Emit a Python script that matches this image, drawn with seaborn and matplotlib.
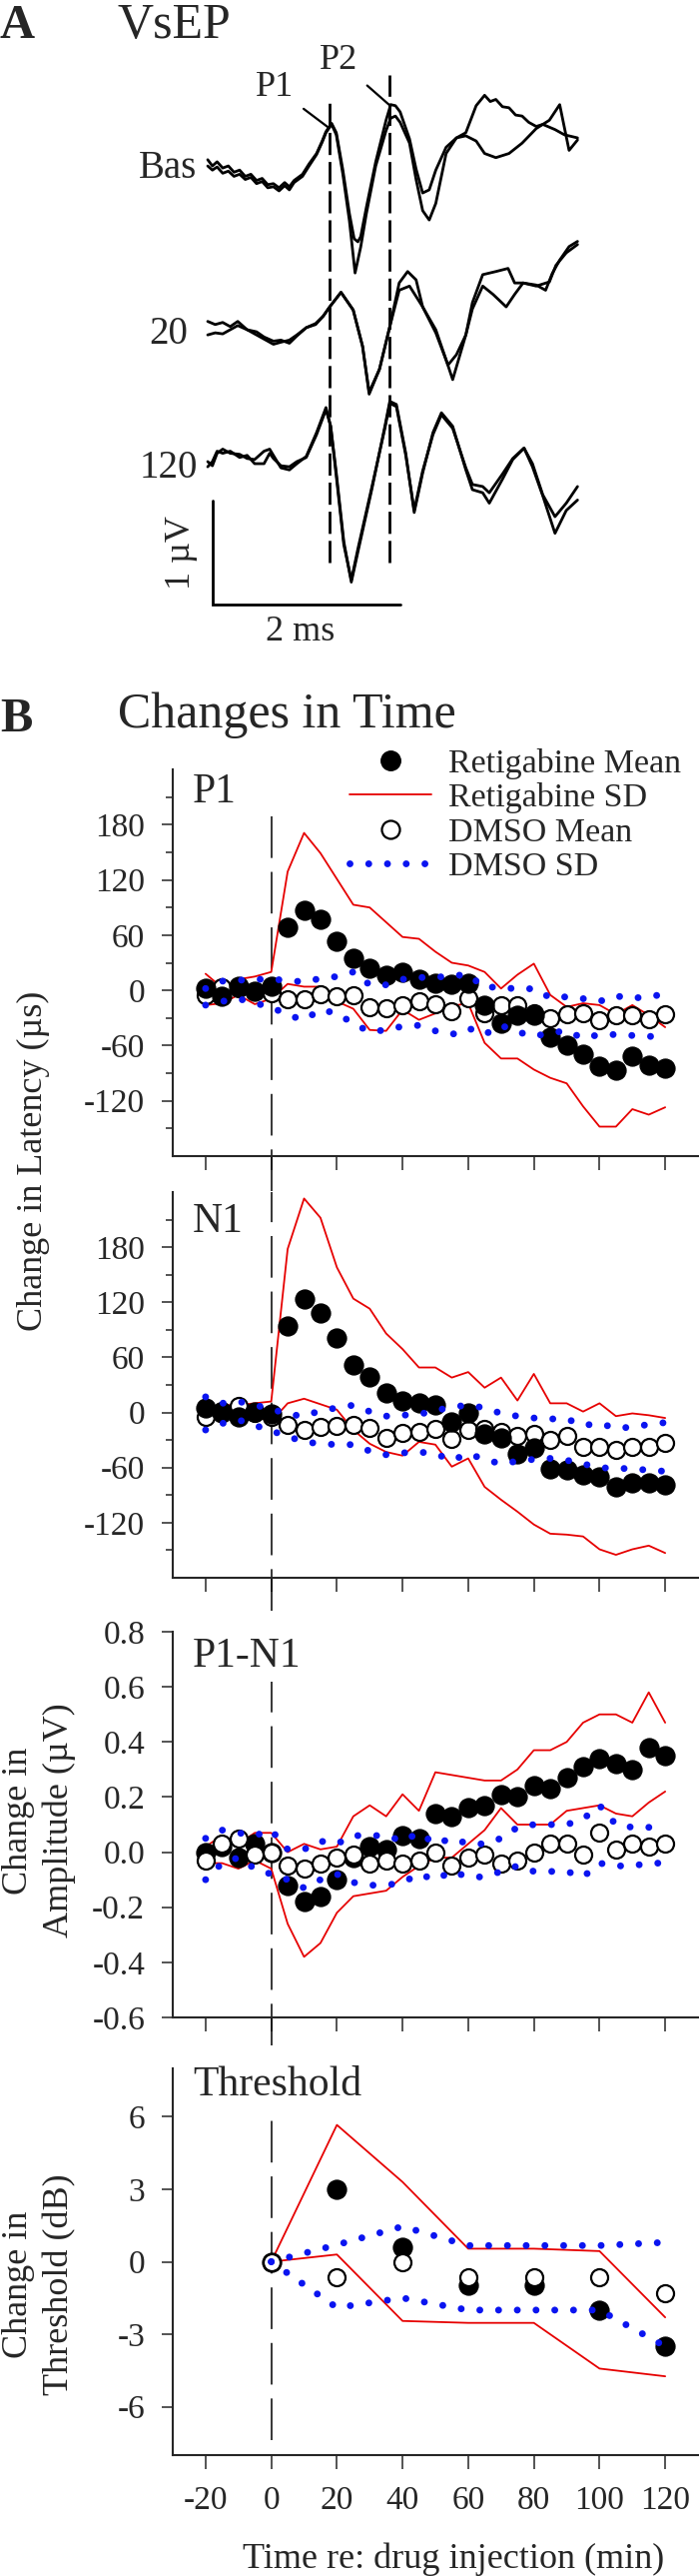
import numpy as np
import pandas as pd
import matplotlib
matplotlib.use("Agg")
import matplotlib.pyplot as plt
import seaborn as sns
from matplotlib.lines import Line2D

sns.set_style("ticks")
plt.rcParams['font.family'] = ['Liberation Serif', 'DejaVu Serif']
plt.rcParams['axes.unicode_minus'] = False
plt.rcParams['lines.scale_dashes'] = False

RED = '#e60000'
BLUE = '#0a14f0'

# ---------------- Panel A: VsEP traces (time in ms, amplitude in uV) ----------------
bas_a_t = [0.00, 0.05, 0.10, 0.16, 0.22, 0.28, 0.34, 0.40, 0.46, 0.52, 0.58, 0.64, 0.70, 0.76, 0.82,
           0.87, 0.92, 1.01, 1.08, 1.16, 1.22, 1.26, 1.32, 1.37, 1.44, 1.51, 1.56, 1.60, 1.63, 1.69,
           1.79, 1.90, 1.95, 2.00, 2.05, 2.15, 2.22, 2.29, 2.36, 2.43, 2.54, 2.65, 2.75, 2.86, 2.95,
           3.01, 3.07, 3.14, 3.21, 3.28, 3.35, 3.42, 3.50, 3.57, 3.70, 3.80, 3.94]
bas_a_uv = [0.04, -0.02, 0.02, -0.04, -0.02, -0.08, -0.06, -0.12, -0.10, -0.16, -0.14, -0.20, -0.19, -0.23, -0.18,
            -0.22, -0.16, -0.10, 0.00, 0.10, 0.22, 0.31, 0.39, 0.30, -0.06, -0.48, -0.72, -0.75, -0.70, -0.42,
            0.02, 0.42, 0.57, 0.56, 0.50, 0.24, -0.05, -0.28, -0.25, -0.06, 0.16, 0.25, 0.30, 0.56, 0.66,
            0.60, 0.62, 0.55, 0.54, 0.47, 0.46, 0.40, 0.36, 0.38, 0.33, 0.28, 0.25]
bas_b_t = [0.00, 0.05, 0.10, 0.16, 0.22, 0.28, 0.34, 0.40, 0.46, 0.52, 0.58, 0.64, 0.70, 0.76, 0.82,
           0.87, 0.92, 1.01, 1.08, 1.16, 1.22, 1.26, 1.32, 1.37, 1.44, 1.51, 1.57, 1.63, 1.69, 1.79,
           1.90, 1.95, 2.00, 2.05, 2.15, 2.22, 2.29, 2.36, 2.43, 2.54, 2.65, 2.75, 2.86, 2.95, 3.07,
           3.21, 3.35, 3.50, 3.64, 3.75, 3.85, 3.94]
bas_b_uv = [-0.02, -0.06, -0.03, -0.09, -0.07, -0.12, -0.10, -0.15, -0.13, -0.19, -0.17, -0.23, -0.22, -0.26, -0.21,
            -0.25, -0.18, -0.12, -0.02, 0.09, 0.21, 0.30, 0.38, 0.28, -0.10, -0.55, -1.05, -0.80, -0.48, -0.02,
            0.32, 0.44, 0.46, 0.40, 0.20, -0.15, -0.45, -0.54, -0.38, 0.10, 0.25, 0.27, 0.22, 0.10, 0.06,
            0.10, 0.20, 0.34, 0.42, 0.57, 0.13, 0.23]

d20_a_t = [0.00, 0.08, 0.16, 0.24, 0.32, 0.42, 0.52, 0.60, 0.70, 0.78, 0.87, 0.95, 1.05, 1.15, 1.23,
           1.30, 1.42, 1.55, 1.65, 1.72, 1.83, 1.94, 2.04, 2.13, 2.22, 2.29, 2.43, 2.54, 2.61, 2.75,
           2.82, 2.93, 3.07, 3.20, 3.27, 3.36, 3.50, 3.60, 3.67, 3.75, 3.85, 3.94]
d20_a_uv = [0.08, 0.05, 0.07, 0.03, 0.08, 0.00, -0.02, -0.07, -0.11, -0.10, -0.13, -0.06, 0.02, 0.05, 0.13,
            0.22, 0.36, 0.19, -0.16, -0.62, -0.38, 0.03, 0.45, 0.56, 0.48, 0.22, 0.00, -0.29, -0.48, -0.05,
            0.26, 0.53, 0.56, 0.59, 0.45, 0.45, 0.43, 0.38, 0.54, 0.67, 0.80, 0.85]
d20_b_t = [0.00, 0.08, 0.16, 0.24, 0.32, 0.42, 0.52, 0.60, 0.70, 0.78, 0.87, 0.95, 1.05, 1.15, 1.23,
           1.30, 1.42, 1.55, 1.65, 1.72, 1.83, 1.94, 2.04, 2.15, 2.29, 2.43, 2.56, 2.65, 2.75, 2.82,
           2.93, 3.04, 3.18, 3.27, 3.36, 3.50, 3.64, 3.71, 3.82, 3.94]
d20_b_uv = [-0.05, -0.03, -0.04, 0.00, 0.04, 0.00, -0.05, -0.09, -0.14, -0.12, -0.10, -0.05, 0.02, 0.06, 0.13,
            0.22, 0.36, 0.19, -0.16, -0.60, -0.38, 0.03, 0.38, 0.42, 0.22, -0.03, -0.34, -0.24, -0.05, 0.20,
            0.42, 0.34, 0.22, 0.34, 0.45, 0.42, 0.46, 0.62, 0.74, 0.82]

d120_t = [0.00, 0.05, 0.10, 0.16, 0.24, 0.34, 0.42, 0.50, 0.60, 0.66, 0.70, 0.78, 0.87, 0.95, 1.05,
          1.16, 1.26, 1.31, 1.37, 1.45, 1.53, 1.60, 1.75, 1.89, 1.94, 2.01, 2.11, 2.20, 2.29, 2.40,
          2.49, 2.61, 2.75, 2.82, 2.93, 3.00, 3.14, 3.25, 3.37, 3.46, 3.57, 3.70, 3.82, 3.94]
d120_a_uv = [0.02, -0.02, 0.10, 0.14, 0.10, 0.09, 0.05, 0.04, 0.12, 0.14, 0.08, -0.04, -0.06, 0.00, 0.07,
             0.30, 0.54, 0.36, -0.09, -0.75, -1.14, -0.85, -0.24, 0.37, 0.60, 0.57, 0.10, -0.47, -0.09, 0.30,
             0.49, 0.36, -0.06, -0.25, -0.28, -0.38, -0.15, 0.04, 0.15, -0.03, -0.31, -0.67, -0.45, -0.35]
d120_b_uv = [-0.03, 0.02, 0.12, 0.10, 0.12, 0.06, 0.08, 0.00, 0.00, 0.10, 0.05, -0.02, -0.03, 0.02, 0.06,
             0.28, 0.52, 0.36, -0.12, -0.78, -1.12, -0.82, -0.22, 0.35, 0.58, 0.55, 0.08, -0.45, -0.07, 0.28,
             0.47, 0.34, -0.04, -0.20, -0.22, -0.28, -0.10, 0.05, 0.15, 0.00, -0.30, -0.51, -0.38, -0.22]

trace_labels = ['Bas', '20', '120']
trace_offsets = [5.154, 3.558, 2.269]      # vertical position of each pair (uV)
p1_ms, p2_ms = 1.30, 1.94                   # latency markers
scale_ms, scale_uv = 2, 1

# ---------------- Panel B: changes in time ----------------
time_min = [-20, -15, -10, -5, 0, 5, 10, 15, 20, 25, 30, 35, 40, 45, 50, 55, 60,
            65, 70, 75, 80, 85, 90, 95, 100, 105, 110, 115, 120]

p1_ret_mean = [2, -6, 5, -1, 5, 68, 87, 77, 53, 35, 24, 16, 20, 12, 8, 7, 8,
               -16, -36, -27, -27, -51, -60, -69, -82, -87, -72, -81, -84]
p1_ret_hi = [18, 3, 12, 15, 20, 129, 171, 149, 121, 93, 90, 74, 58, 56, 42, 30, 27,
             20, 2, 17, 29, -5, -18, -14, -16, -26, -16, -27, -40]
p1_ret_lo = [-16, -14, -5, -15, -9, 7, 4, 4, -12, -20, -43, -44, -21, -32, -25, -17, -14,
             -57, -74, -74, -86, -95, -101, -126, -148, -148, -129, -135, -127]
p1_dmso_mean = [-5, 3, 2, -1, -3, -10, -10, -4, -6, -5, -18, -19, -16, -12, -15, -23, -9,
                -25, -16, -16, -25, -30, -26, -25, -32, -27, -27, -31, -26]
p1_dmso_hi = [2, 10, 11, 12, 12, 11, 9, 13, 15, 20, 6, 6, 12, 14, 14, 16, 17,
              3, 4, 1, 2, -8, -7, -9, -12, -6, -9, -6, -5]
p1_dmso_lo = [-16, -12, -9, -14, -18, -27, -32, -21, -25, -36, -45, -43, -39, -38, -44, -48, -41,
              -48, -38, -45, -50, -46, -44, -52, -48, -48, -49, -50, -50]

n1_ret_mean = [5, -1, -5, 1, -2, 94, 124, 108, 81, 52, 39, 21, 13, 10, 8, -10, 0,
               -23, -28, -45, -39, -61, -63, -68, -70, -81, -77, -77, -79]
n1_ret_hi = [-1, 8, 8, 10, 12, 178, 233, 212, 158, 124, 113, 86, 69, 49, 49, 38, 44,
             27, 38, 13, 42, 10, 10, 1, 10, -4, -1, -3, -6]
n1_ret_lo = [-7, 2, -3, -4, -10, 10, 15, 9, 3, -19, -34, -43, -47, -32, -35, -59, -50,
             -81, -95, -108, -122, -132, -133, -135, -149, -155, -149, -145, -153]
n1_dmso_mean = [-5, 2, 7, -1, -5, -13, -19, -16, -15, -13, -17, -28, -22, -21, -18, -29, -19,
                -18, -21, -26, -23, -30, -26, -38, -37, -41, -37, -37, -33]
n1_dmso_hi = [17, 10, 12, 8, 4, -2, -4, 2, 5, 8, 1, -4, -3, -2, 2, 6, 8,
              5, -1, -4, -6, -7, -7, -14, -12, -17, -16, -13, -11]
n1_dmso_lo = [-19, -12, -8, -14, -20, -26, -32, -34, -35, -35, -42, -46, -44, -43, -45, -52, -45,
              -51, -56, -53, -51, -50, -52, -56, -60, -61, -61, -63, -64]

amp_ret_mean = [0.00, 0.02, -0.02, 0.03, 0.00, -0.12, -0.18, -0.16, -0.10, -0.02, 0.02, 0.01, 0.06, 0.05,
                0.14, 0.13, 0.16, 0.17, 0.21, 0.20, 0.24, 0.23, 0.27, 0.31, 0.34, 0.32, 0.30, 0.38, 0.35]
amp_ret_hi = [0.02, 0.06, 0.03, 0.07, 0.07, 0.00, 0.03, 0.01, 0.02, 0.13, 0.17, 0.13, 0.21, 0.15,
              0.29, 0.28, 0.27, 0.26, 0.26, 0.30, 0.37, 0.37, 0.40, 0.47, 0.50, 0.50, 0.47, 0.58, 0.47]
amp_ret_lo = [-0.04, -0.04, -0.06, -0.03, -0.06, -0.26, -0.38, -0.33, -0.22, -0.16, -0.15, -0.14, -0.09, -0.05,
              -0.02, -0.02, 0.03, 0.08, 0.16, 0.10, 0.10, 0.10, 0.15, 0.16, 0.17, 0.14, 0.13, 0.18, 0.22]
amp_dmso_mean = [-0.03, 0.03, 0.05, -0.01, 0.00, -0.05, -0.06, -0.04, -0.02, -0.01, -0.04, -0.03, -0.04, -0.03,
                 0.00, -0.05, -0.02, -0.01, -0.04, -0.03, 0.00, 0.03, 0.03, -0.01, 0.07, 0.01, 0.03, 0.02, 0.03]
amp_dmso_hi = [0.05, 0.08, 0.07, 0.06, 0.08, 0.01, 0.01, 0.04, 0.03, 0.06, 0.06, 0.06, 0.04, 0.07,
               0.03, 0.05, 0.03, 0.03, 0.05, 0.09, 0.10, 0.10, 0.10, 0.12, 0.17, 0.10, 0.09, 0.09, 0.11]
amp_dmso_lo = [-0.10, -0.04, -0.02, -0.06, -0.08, -0.10, -0.13, -0.10, -0.08, -0.11, -0.12, -0.12, -0.11, -0.08,
               -0.10, -0.07, -0.09, -0.09, -0.07, -0.05, -0.07, -0.07, -0.07, -0.09, -0.04, -0.05, -0.05, -0.04, -0.04]

thr_time = [0, 20, 40, 60, 80, 100, 120]
thr_ret_mean = [0, 3.0, 0.58, -0.98, -0.98, -2.0, -3.5]
thr_ret_hi = [0, 5.66, 3.3, 0.54, 0.54, 0.44, -2.3]
thr_ret_lo = [0, 0.3, -2.45, -2.53, -2.53, -4.42, -4.74]
thr_dmso_mean = [0, -0.66, 0, -0.66, -0.66, -0.66, -1.32]
thr_dmso_hi = [0, 0.7, 1.46, 0.67, 0.67, 0.67, 0.8]
thr_dmso_lo = [0, -1.9, -1.5, -2.0, -2.0, -2.0, -3.5]

x_ticks = [-20, 0, 20, 40, 60, 80, 100, 120]
injection_time = 0

# ---------------- figure ----------------
W, H = 700, 2578
fig = plt.figure(figsize=(W / 100, H / 100), dpi=100)
fig.patch.set_facecolor('white')

# Panel A
axA = fig.add_axes([0, 1 - 700 / H, 1, 700 / H])
axA.set_xlim(-208 / 94, (W - 208) / 94)
axA.set_ylim(0, 700 / 104)
axA.axis('off')

pairs = [((bas_a_t, bas_a_uv), (bas_b_t, bas_b_uv)),
         ((d20_a_t, d20_a_uv), (d20_b_t, d20_b_uv)),
         ((d120_t, d120_a_uv), (d120_t, d120_b_uv))]
label_x = [-0.12, -0.21, -0.11]
for (tr1, tr2), off, lab, lx in zip(pairs, trace_offsets, trace_labels, label_x):
    for tt, uv in (tr1, tr2):
        sns.lineplot(x=tt, y=np.array(uv) + off, ax=axA, color='black', lw=2.0, sort=False)
    axA.text(lx, off, lab, ha='right', va='center_baseline', fontsize=28)

bar_t0, bar_v0 = 0.053, 0.913
axA.plot([bar_t0, bar_t0, bar_t0 + scale_ms], [bar_v0 + scale_uv, bar_v0, bar_v0],
         color='black', lw=2, solid_joinstyle='miter')
axA.text(bar_t0 - 0.33, bar_v0 + 0.5 * scale_uv, '1 µV', rotation=90, ha='center', va='center', fontsize=26)
axA.text(bar_t0 + 0.93, bar_v0 - 0.26, '2 ms', ha='center', va='center', fontsize=26)

axA.vlines([p1_ms, p2_ms], [1.317, 1.317], [5.75, 6.01], colors='black', lw=2.0,
           linestyles=(0, (16, 5)))
axA.annotate('P1', xy=(1.277, 5.51), xytext=(0.713, 5.894), ha='center', va='center', fontsize=26,
             arrowprops=dict(arrowstyle='-', color='black', lw=1.6, shrinkA=6, shrinkB=0))
axA.annotate('P2', xy=(1.936, 5.72), xytext=(1.394, 6.15), ha='center', va='center', fontsize=26,
             arrowprops=dict(arrowstyle='-', color='black', lw=1.6, shrinkA=6, shrinkB=0))

fig.text(0, 1 - 38 / H, 'A', fontsize=35, fontweight='bold', va='baseline')
fig.text(117 / W, 1 - 38 / H, 'VsEP', fontsize=36, va='baseline')
fig.text(0, 1 - 732 / H, 'B', fontsize=35, fontweight='bold', va='baseline')
fig.text(118 / W, 1 - 728 / H, 'Changes in Time', fontsize=36, va='baseline')

# Panel B axes
LEFT, RIGHT = 173, 699
rows = [(770, 1157), (1193, 1579), (1633, 2019), (2070, 2457)]
axes = [fig.add_axes([LEFT / W, 1 - b / H, (RIGHT - LEFT) / W, (b - t) / H]) for t, b in rows]

panels = [
    dict(t=time_min, rm=p1_ret_mean, rh=p1_ret_hi, rl=p1_ret_lo, dm=p1_dmso_mean, dh=p1_dmso_hi, dl=p1_dmso_lo,
         ylim=(-180, 240), major=[-120, -60, 0, 60, 120, 180], minor=[-150, -90, -30, 30, 90, 150, 210],
         fmt='{:.0f}', label='P1', ly=0.915, vl=(195, -218), open_top=False),
    dict(t=time_min, rm=n1_ret_mean, rh=n1_ret_hi, rl=n1_ret_lo, dm=n1_dmso_mean, dh=n1_dmso_hi, dl=n1_dmso_lo,
         ylim=(-180, 240), major=[-120, -60, 0, 60, 120, 180], minor=[-150, -90, -30, 30, 90, 150, 210],
         fmt='{:.0f}', label='N1', ly=0.896, vl=(240, -216), open_top=False),
    dict(t=time_min, rm=amp_ret_mean, rh=amp_ret_hi, rl=amp_ret_lo, dm=amp_dmso_mean, dh=amp_dmso_hi, dl=amp_dmso_lo,
         ylim=(-0.6, 0.8), major=[-0.6, -0.4, -0.2, 0.0, 0.2, 0.4, 0.6, 0.8], minor=[],
         fmt='{:.1f}', label='P1-N1', ly=0.909, vl=(0.618, -0.70), open_top=True),
    dict(t=thr_time, rm=thr_ret_mean, rh=thr_ret_hi, rl=thr_ret_lo, dm=thr_dmso_mean, dh=thr_dmso_hi, dl=thr_dmso_lo,
         ylim=(-8, 8), major=[-6, -3, 0, 3, 6], minor=[],
         fmt='{:.0f}', label='Threshold', ly=0.930, vl=(6.2, -7.4), open_top=True),
]

dot_style = dict(color=BLUE, lw=5, linestyle=(0, (0.01, 13.5)), dash_capstyle='round')

for i, (ax, p) in enumerate(zip(axes, panels)):
    for sd in (p['rh'], p['rl']):
        sns.lineplot(x=p['t'], y=sd, ax=ax, color=RED, lw=1.3, zorder=2)
    zf, zo = (3, 4) if p['open_top'] else (4, 3)
    sns.scatterplot(x=p['t'], y=p['rm'], ax=ax, s=190, color='black', edgecolor='black',
                    linewidth=0.8, zorder=zf)
    sns.scatterplot(x=p['t'], y=p['dm'], ax=ax, s=150, color='white', edgecolor='black',
                    linewidth=1.6, zorder=zo)
    for sd in (p['dh'], p['dl']):
        sns.lineplot(x=p['t'], y=sd, ax=ax, zorder=5, **dot_style)
    ax.vlines(injection_time, p['vl'][1], p['vl'][0], colors='black', lw=1.1,
              linestyles=(0, (30, 10)), clip_on=False, zorder=1)

    ax.set_xlim(-30, 130)
    ax.set_ylim(*p['ylim'])
    ax.set_xticks(x_ticks)
    ax.set_yticks(p['major'])
    ax.set_yticklabels([p['fmt'].format(v) for v in p['major']])
    ax.set_yticks(p['minor'], minor=True)
    ax.set_xlabel('')
    ax.set_ylabel('')
    for s in ('top', 'right'):
        ax.spines[s].set_visible(False)
    for s in ('left', 'bottom'):
        ax.spines[s].set_linewidth(1.5)
    ax.tick_params(axis='x', direction='out', length=10, width=1.1, labelsize=24, pad=12,
                   labelbottom=(i == 3))
    ax.tick_params(axis='y', which='major', direction='out', length=8, width=1.1, labelsize=24, pad=12)
    ax.tick_params(axis='y', which='minor', direction='out', length=5, width=1.1)
    ax.text((193 - LEFT) / (RIGHT - LEFT), p['ly'], p['label'], transform=ax.transAxes,
            fontsize=30, va='baseline', ha='left')
    ax.set_facecolor('none')

# legend in the first panel
handles = [Line2D([], [], ls='none', marker='o', ms=14, mfc='black', mec='black'),
           Line2D([], [], color=RED, lw=1.3),
           Line2D([], [], ls='none', marker='o', ms=13, mfc='white', mec='black', mew=1.6),
           Line2D([], [], **dot_style)]
labels = ['Retigabine Mean', 'Retigabine SD', 'DMSO Mean', 'DMSO SD']
axes[0].legend(handles, labels, loc='upper left', bbox_to_anchor=(350 / W, 1 - 749 / H),
               bbox_transform=fig.transFigure, frameon=False, borderpad=0, borderaxespad=0,
               handlelength=2.4, handletextpad=0.5, labelspacing=0.1, fontsize=24.5)

# axis titles
fig.text(33 / W, 1 - 1162 / H, 'Change in Latency (µs)', rotation=90, ha='center', va='center', fontsize=26)
fig.text(39 / W, 1 - 1822 / H, 'Change in\nAmplitude (µV)', rotation=90, ha='center', va='center',
         fontsize=26, linespacing=1.3, multialignment='center')
fig.text(39 / W, 1 - 2286 / H, 'Change in\nThreshold (dB)', rotation=90, ha='center', va='center',
         fontsize=26, linespacing=1.3, multialignment='center')
fig.text(454 / W, 1 - 2570 / H, 'Time re: drug injection (min)', ha='center', va='baseline', fontsize=26)

fig.savefig('out.png', dpi=100, facecolor='white')
